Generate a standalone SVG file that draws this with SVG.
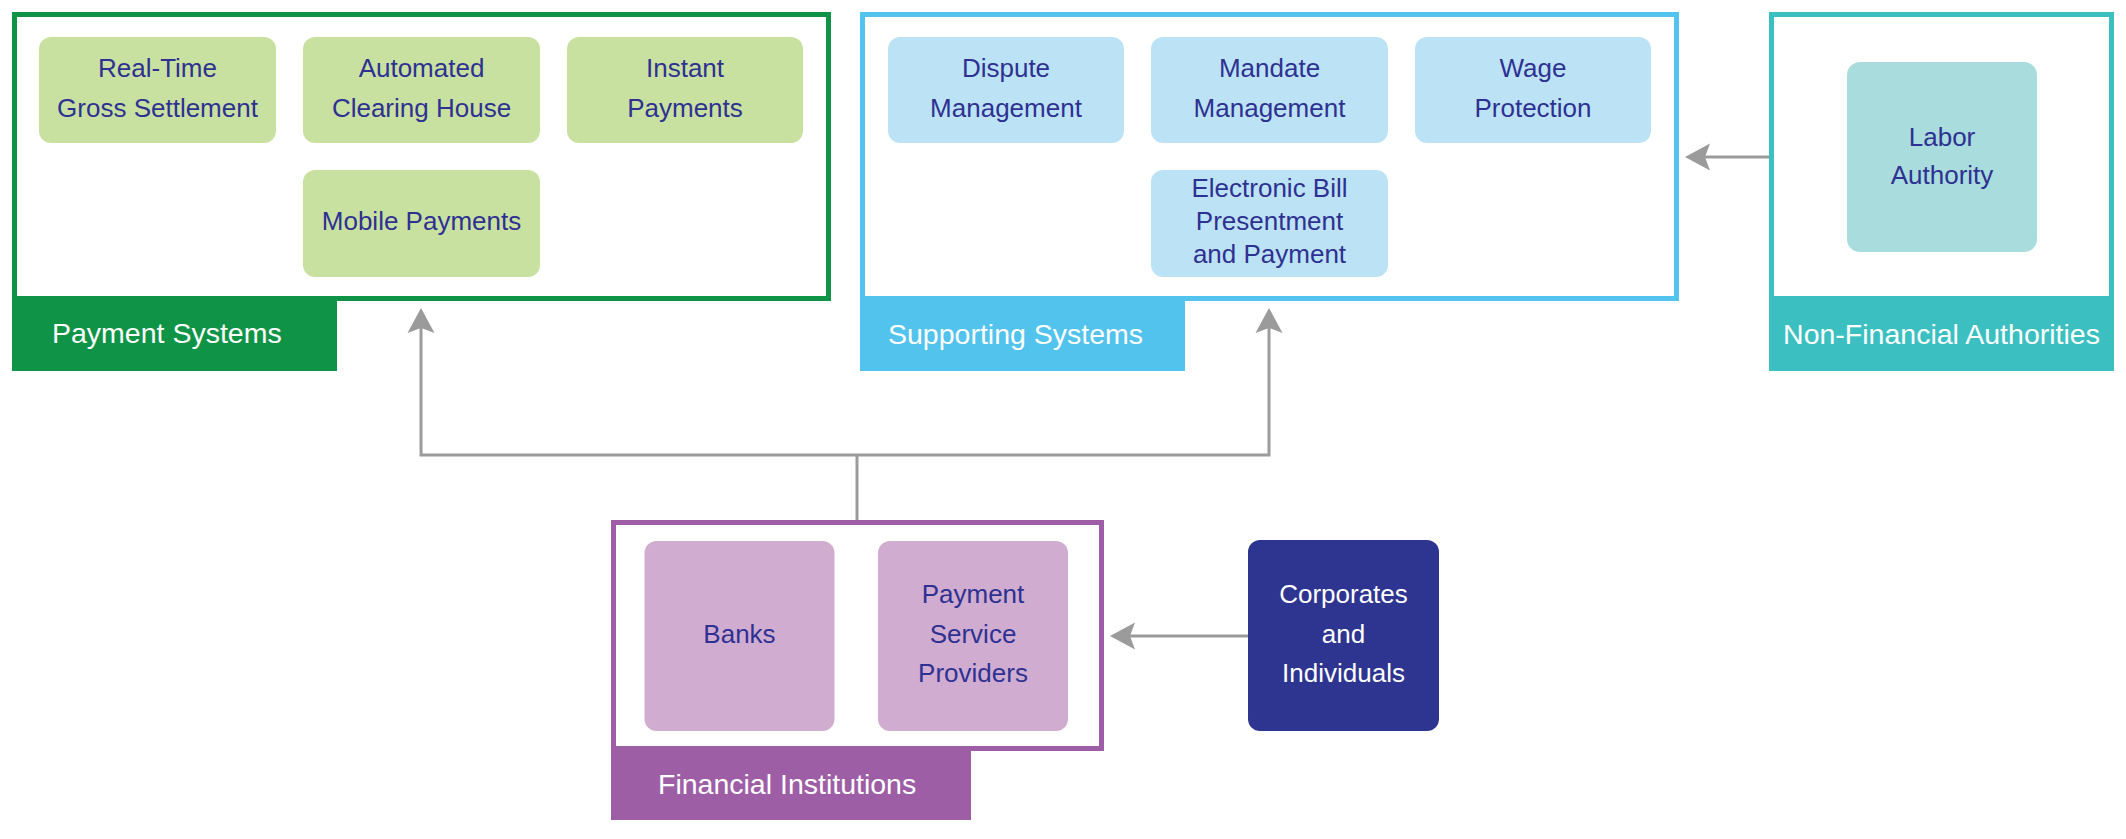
<svg xmlns="http://www.w3.org/2000/svg" width="2126" height="839" viewBox="0 0 2126 839">
  <style>
    .frame { fill: #ffffff; stroke-width: 5; }
    .node-text { font-family: "Liberation Sans", Arial, sans-serif; font-size: 26px; fill: #2E3192; text-anchor: middle; }
    .node-text-light { font-family: "Liberation Sans", Arial, sans-serif; font-size: 26px; fill: #ffffff; text-anchor: middle; }
    .label-text { font-family: "Liberation Sans", Arial, sans-serif; font-size: 28.5px; fill: #ffffff; }
    .conn { fill: none; stroke: #9B9B9B; stroke-width: 3; stroke-linejoin: miter; }
    .green-node { fill: #C9E1A0; }
    .blue-node { fill: #BCE3F5; }
    .teal-node { fill: #A9DCDC; }
    .purple-node { fill: #D0ADD0; }
  </style>
  <defs>
    <marker id="arrow" markerUnits="userSpaceOnUse" viewBox="0 -14 26 28" markerWidth="26" markerHeight="28" refX="5" refY="0" orient="auto-start-reverse" overflow="visible">
      <path d="M25,0 L0,-13.5 L5,0 L0,13.5 Z" fill="#9B9B9B"/>
    </marker>
  </defs>
  <rect width="2126" height="839" fill="#ffffff"/>

  <!-- Payment Systems group -->
  <g id="payment-systems">
    <rect class="frame" x="14.5" y="14.5" width="814" height="284" stroke="#0F9447"/>
    <rect x="12" y="299" width="325" height="72" fill="#0F9447"/>
    <text class="label-text" x="52" y="343">Payment Systems</text>
  </g>
  <g id="rtgs">
    <rect class="green-node" x="39" y="37" width="237" height="106" rx="12"/>
    <text class="node-text" x="157.5" y="77">Real-Time</text>
    <text class="node-text" x="157.5" y="117">Gross Settlement</text>
  </g>
  <g id="ach">
    <rect class="green-node" x="303" y="37" width="237" height="106" rx="12"/>
    <text class="node-text" x="421.5" y="77">Automated</text>
    <text class="node-text" x="421.5" y="117">Clearing House</text>
  </g>
  <g id="instant-payments">
    <rect class="green-node" x="567" y="37" width="236" height="106" rx="12"/>
    <text class="node-text" x="685" y="77">Instant</text>
    <text class="node-text" x="685" y="117">Payments</text>
  </g>
  <g id="mobile-payments">
    <rect class="green-node" x="303" y="170" width="237" height="107" rx="12"/>
    <text class="node-text" x="421.5" y="230">Mobile Payments</text>
  </g>

  <!-- Supporting Systems group -->
  <g id="supporting-systems">
    <rect class="frame" x="862.5" y="14.5" width="814" height="284" stroke="#52C3EC"/>
    <rect x="860" y="299" width="325" height="72" fill="#52C3EC"/>
    <text class="label-text" x="888" y="344">Supporting Systems</text>
  </g>
  <g id="dispute-management">
    <rect class="blue-node" x="888" y="37" width="236" height="106" rx="12"/>
    <text class="node-text" x="1006" y="77">Dispute</text>
    <text class="node-text" x="1006" y="117">Management</text>
  </g>
  <g id="mandate-management">
    <rect class="blue-node" x="1151" y="37" width="237" height="106" rx="12"/>
    <text class="node-text" x="1269.5" y="77">Mandate</text>
    <text class="node-text" x="1269.5" y="117">Management</text>
  </g>
  <g id="wage-protection">
    <rect class="blue-node" x="1415" y="37" width="236" height="106" rx="12"/>
    <text class="node-text" x="1533" y="77">Wage</text>
    <text class="node-text" x="1533" y="117">Protection</text>
  </g>
  <g id="ebpp">
    <rect class="blue-node" x="1151" y="170" width="237" height="107" rx="12"/>
    <text class="node-text" x="1269.5" y="197">Electronic Bill</text>
    <text class="node-text" x="1269.5" y="230">Presentment</text>
    <text class="node-text" x="1269.5" y="263">and Payment</text>
  </g>

  <!-- Non-Financial Authorities group -->
  <g id="non-financial-authorities">
    <rect class="frame" x="1771.5" y="14.5" width="340" height="284" stroke="#3BBFC1"/>
    <rect x="1769" y="299" width="345" height="72" fill="#3BBFC1"/>
    <text class="label-text" x="1941.5" y="344" text-anchor="middle">Non-Financial Authorities</text>
  </g>
  <g id="labor-authority">
    <rect class="teal-node" x="1847" y="62" width="190" height="190" rx="13"/>
    <text class="node-text" x="1942" y="146">Labor</text>
    <text class="node-text" x="1942" y="184">Authority</text>
  </g>

  <!-- Financial Institutions group -->
  <g id="financial-institutions">
    <rect class="frame" x="613.5" y="522.5" width="488" height="226" stroke="#9E5EA5"/>
    <rect x="611" y="749" width="360" height="71" fill="#9E5EA5"/>
    <text class="label-text" x="658" y="794">Financial Institutions</text>
  </g>
  <g id="banks">
    <rect class="purple-node" x="644.5" y="541" width="190" height="190" rx="12"/>
    <text class="node-text" x="739.5" y="643">Banks</text>
  </g>
  <g id="payment-service-providers">
    <rect class="purple-node" x="878" y="541" width="190" height="190" rx="12"/>
    <text class="node-text" x="973" y="603">Payment</text>
    <text class="node-text" x="973" y="643">Service</text>
    <text class="node-text" x="973" y="682">Providers</text>
  </g>

  <!-- Corporates and Individuals -->
  <g id="corporates-individuals">
    <rect x="1248" y="540" width="191" height="191" rx="12" fill="#2E3590"/>
    <text class="node-text-light" x="1343.5" y="603">Corporates</text>
    <text class="node-text-light" x="1343.5" y="643">and</text>
    <text class="node-text-light" x="1343.5" y="682">Individuals</text>
  </g>

  <!-- Connectors -->
  <g id="connectors">
    <path class="conn" d="M857,520 V455"/>
    <path class="conn" d="M421,328 V455 H1269 V328" marker-start="url(#arrow)" marker-end="url(#arrow)"/>
    <path class="conn" d="M1769,157 H1705" marker-end="url(#arrow)"/>
    <path class="conn" d="M1248,636 H1130" marker-end="url(#arrow)"/>
  </g>
</svg>
